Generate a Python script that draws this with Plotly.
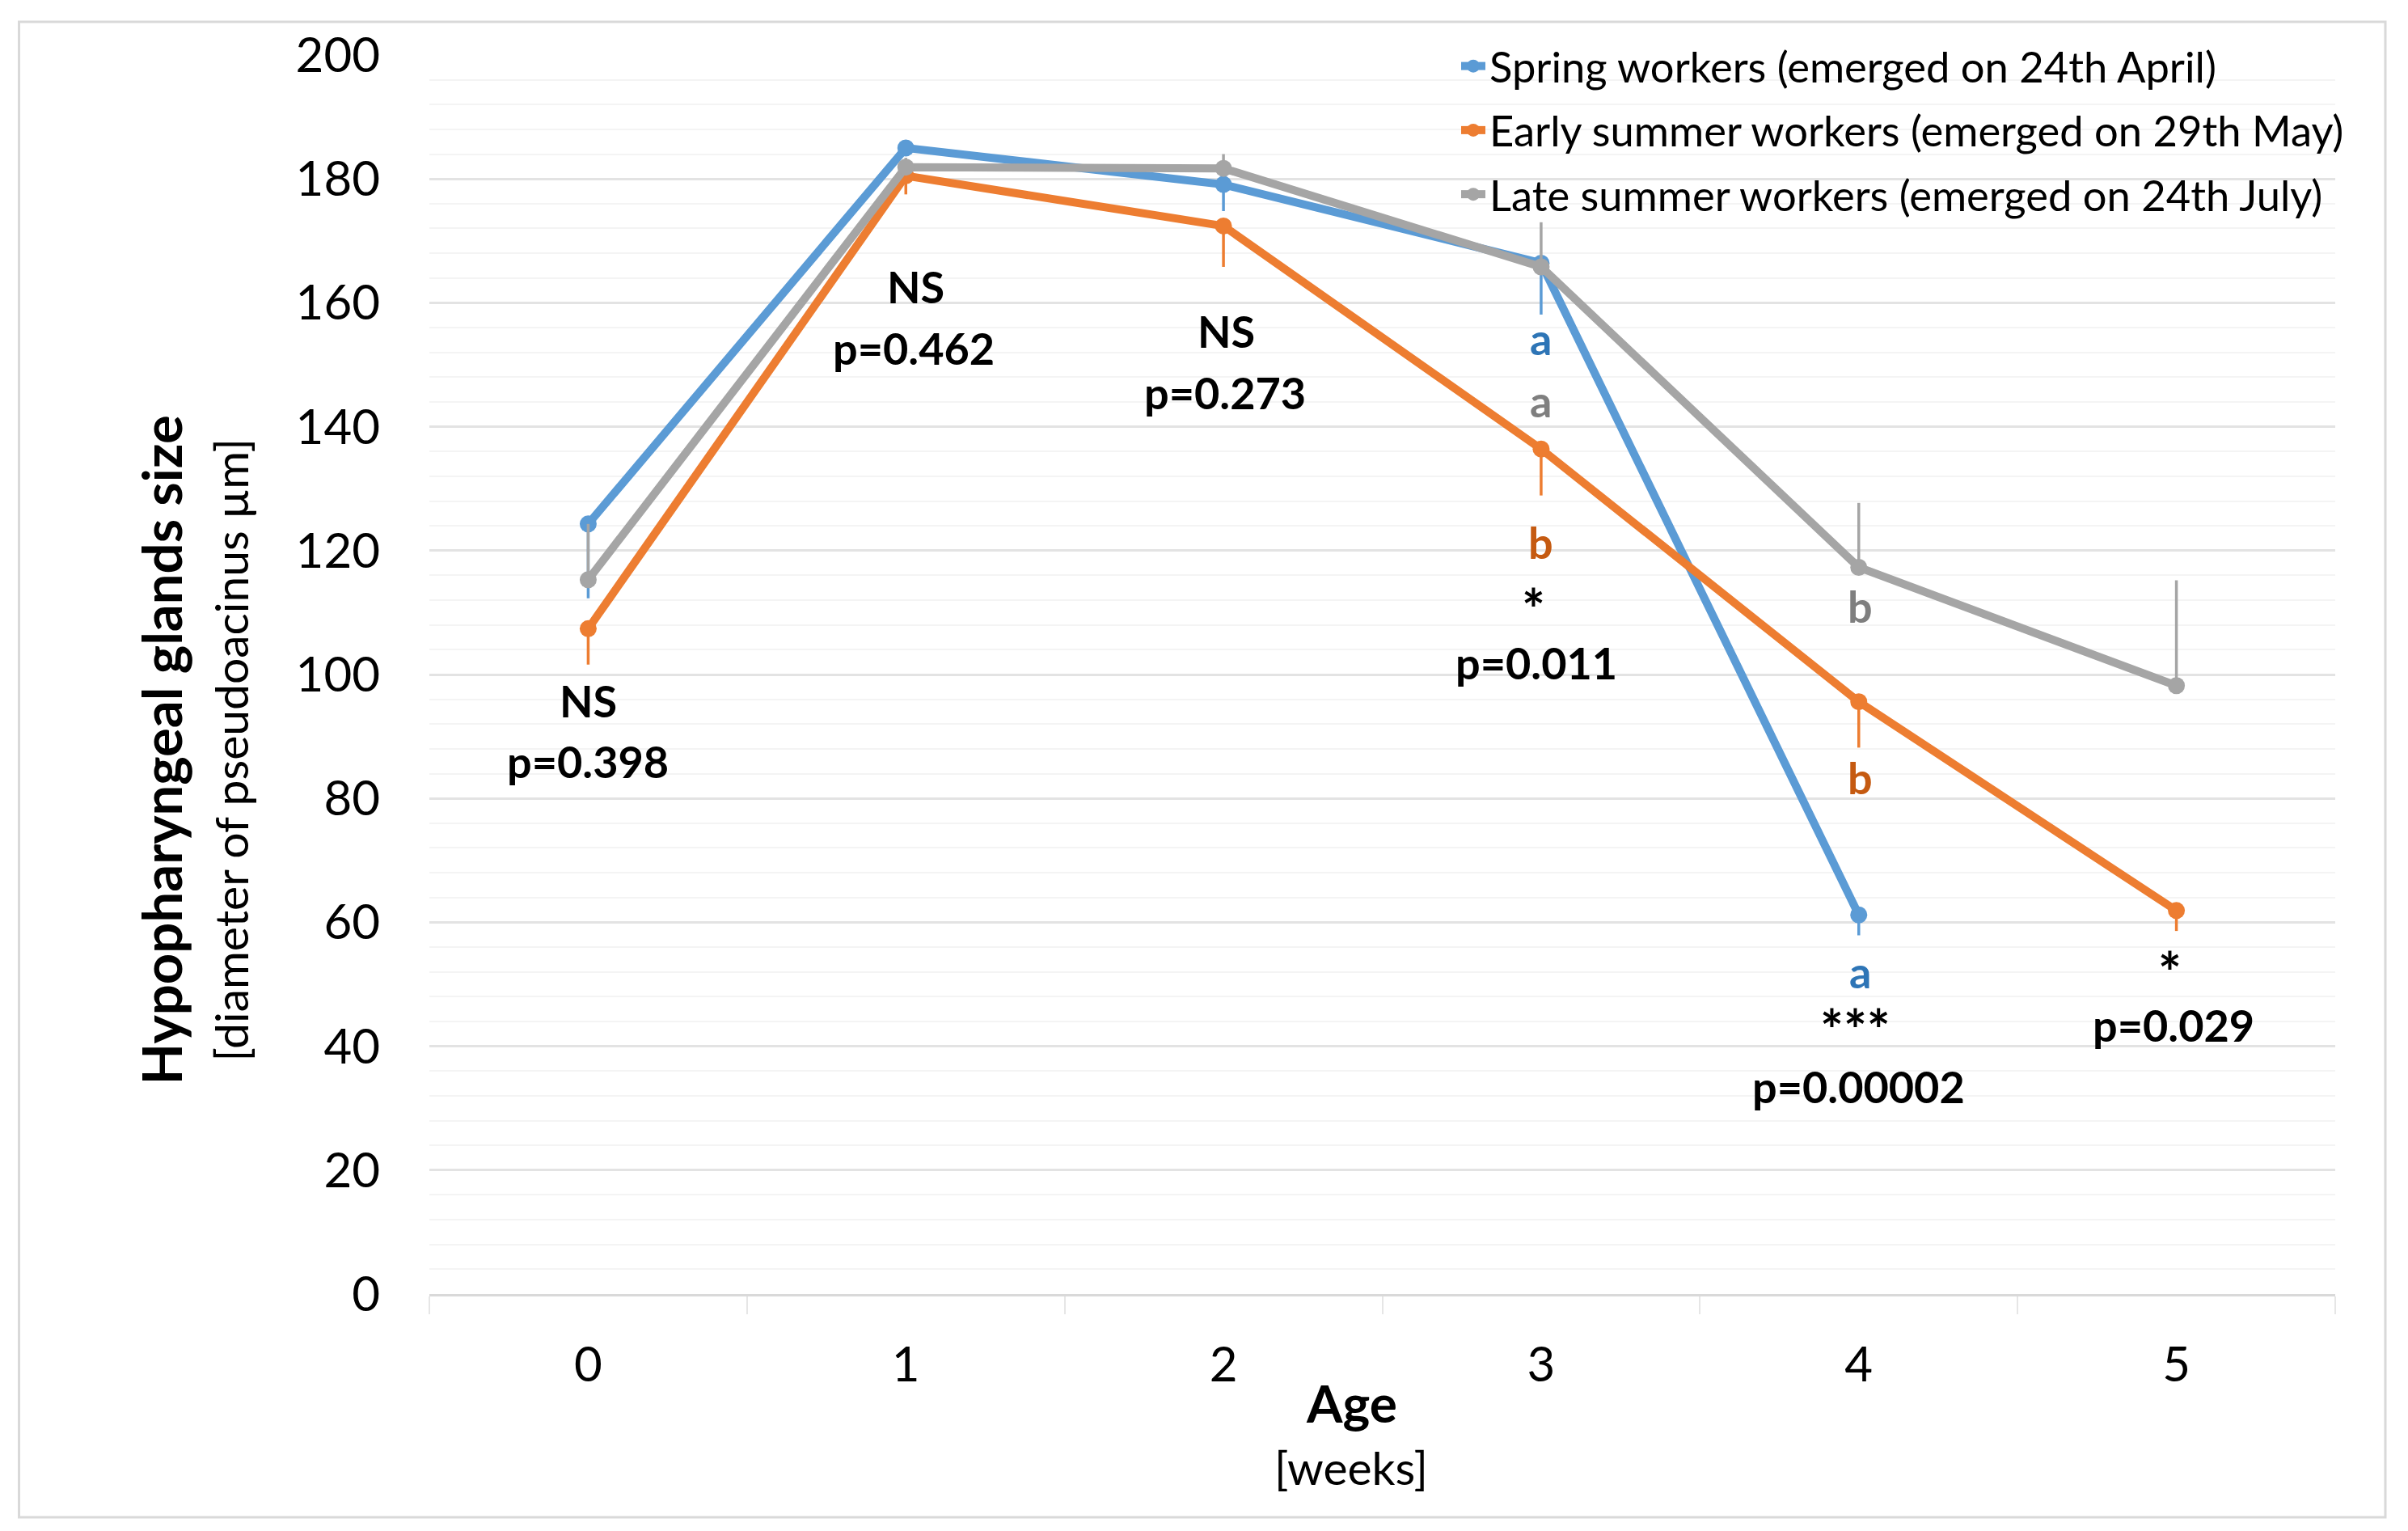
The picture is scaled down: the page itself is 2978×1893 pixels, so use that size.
import plotly.graph_objects as go

weeks = [0, 1, 2, 3, 4, 5]
week_labels = ["0", "1", "2", "3", "4", "5"]

series_names = [
    "Spring workers (emerged on 24th April)",
    "Early summer workers (emerged on 29th May)",
    "Late summer workers (emerged on 24th July)",
]

spring = [124.3, 185.0, 179.1, 166.4, 61.2, None]
spring_err_plus = [0, 0, 0, 0, 0, 0]
spring_err_minus = [12.0, 0, 4.3, 8.3, 3.3, 0]

early = [107.4, 180.5, 172.4, 136.4, 95.6, 61.9]
early_err_plus = [0, 0, 0, 0, 0, 0]
early_err_minus = [5.8, 3.0, 6.6, 7.5, 7.4, 3.3]

late = [115.3, 181.9, 181.7, 165.8, 117.3, 98.2]
late_err_plus = [9.0, 1.5, 2.3, 7.2, 10.4, 17.0]
late_err_minus = [0, 0, 0, 0, 0, 0]

colors = ["#5B9BD5", "#ED7D31", "#A5A5A5"]

# significance annotations: (x, y, text, color)
sig_x = [0, 0, 1.03, 1.026, 2.008, 2.005, 3.0, 3.0, 3.0, 2.975, 2.985, 4.005, 4.005, 4.005, 3.99, 4.0, 4.98, 4.99]
sig_y = [95.7, 86.0, 162.6, 152.7, 155.4, 145.5, 154.2, 144.2, 121.4, 110.7, 101.9, 111.0, 83.3, 52.0, 42.8, 33.5, 52.0, 43.4]
sig_text = ["NS", "p=0.398", "NS", "p=0.462", "NS", "p=0.273",
            "a", "a", "b", "*", "p=0.011",
            "b", "b", "a", "***", "p=0.00002",
            "*", "p=0.029"]
sig_color = ["black", "black", "black", "black", "black", "black",
             "#2E75B6", "#7F7F7F", "#C55A11", "black", "black",
             "#7F7F7F", "#C55A11", "#2E75B6", "black", "black",
             "black", "black"]

FONT = "Lato"

fig = go.Figure()
all_vals = [spring, early, late]
plus = [spring_err_plus, early_err_plus, late_err_plus]
minus = [spring_err_minus, early_err_minus, late_err_minus]
for i in range(3):
    fig.add_trace(go.Scatter(
        x=weeks, y=all_vals[i], name=series_names[i], mode="lines+markers",
        legendgroup=f"g{i}",
        line=dict(color=colors[i], width=10),
        marker=dict(color=colors[i], size=21, symbol="circle"),
        error_y=dict(type="data", symmetric=False, array=plus[i], arrayminus=minus[i],
                     color=colors[i], thickness=3.5, width=0),
    ))

for x, y, t, c in zip(sig_x, sig_y, sig_text, sig_color):
    size = 68 if t.startswith("*") else 54
    fig.add_annotation(x=x, y=y, text=f"<b>{t}</b>", showarrow=False,
                       font=dict(family=FONT, size=size, color=c),
                       xanchor="center", yanchor="middle")

# the page adds an 8px body margin; lay out in figure pixels accordingly
W, H = 2970, 1885
L, R, T, B = 522.6, 2880, 60, 1592

def px_x(p):
    return (p - L) / (R - L)

def px_y(p):
    return (B - p) / (B - T)

fig.add_annotation(xref="paper", yref="paper", x=px_x(191), y=px_y(919),
                   text="<b>Hypopharyngeal glands size</b>", textangle=-90, showarrow=False,
                   font=dict(family=FONT, size=67, color="black"), xanchor="center", yanchor="middle")
fig.add_annotation(xref="paper", yref="paper", x=px_x(277), y=px_y(919),
                   text="[diameter of pseudoacinus µm]", textangle=-90, showarrow=False,
                   font=dict(family=FONT, size=57, color="black"), xanchor="center", yanchor="middle")
fig.add_annotation(xref="paper", yref="paper", x=px_x(1663), y=px_y(1726),
                   text="<b>Age</b>", showarrow=False,
                   font=dict(family=FONT, size=64, color="black"), xanchor="center", yanchor="middle")
fig.add_annotation(xref="paper", yref="paper", x=px_x(1663), y=px_y(1806),
                   text="[weeks]", showarrow=False,
                   font=dict(family=FONT, size=57, color="black"), xanchor="center", yanchor="middle")

# chart-area border
fig.add_shape(type="rect", xref="paper", yref="paper",
              x0=px_x(15), x1=px_x(2942), y0=px_y(1868), y1=px_y(19),
              line=dict(color="#D9D9D9", width=3), layer="below")

fig.update_layout(
    width=W, height=H,
    margin=dict(l=L, r=W - R, t=T, b=H - B, autoexpand=False),
    paper_bgcolor="white", plot_bgcolor="white",
    font=dict(family=FONT, color="black"),
    showlegend=True,
    legend=dict(xref="container", yref="container", x=1794 / W, y=1 - 33 / H,
                xanchor="left", yanchor="top", bgcolor="rgba(0,0,0,0)",
                font=dict(family=FONT, size=52.5, color="black"),
                tracegroupgap=8, itemwidth=30),
    xaxis=dict(range=[-0.5, 5.5], tickmode="array", tickvals=weeks, ticktext=week_labels,
               showgrid=False, zeroline=False, showline=True, linecolor="#D9D9D9", linewidth=3,
               ticks="", ticklabelstandoff=33,
               tickfont=dict(family=FONT, size=60, color="black"),
               minor=dict(tickmode="array", tickvals=[-0.5, 0.5, 1.5, 2.5, 3.5, 4.5, 5.5],
                          ticks="outside", ticklen=22, tickcolor="#E6E6E6", tickwidth=2,
                          showgrid=False)),
    yaxis=dict(range=[0, 200], tickmode="linear", tick0=0, dtick=20,
               showgrid=True, gridcolor="#E3E3E3", gridwidth=3, zeroline=False, showline=False,
               ticks="", ticklabelstandoff=60,
               tickfont=dict(family=FONT, size=60, color="black"),
               minor=dict(tickmode="linear", tick0=0, dtick=4, showgrid=True,
                          gridcolor="#F4F4F4", gridwidth=2)),
)

fig.write_html("out.html")
